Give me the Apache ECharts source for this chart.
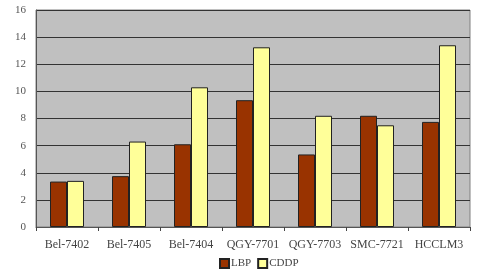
<!DOCTYPE html>
<html><head><meta charset="utf-8">
<script src="https://cdn.jsdelivr.net/npm/echarts@6/dist/echarts.min.js"></script>
<style>html,body{margin:0;padding:0;background:#fff;}#c{width:484px;height:276px;}</style>
</head><body><div id="c"></div>
<script>
var categories = ['Bel-7402','Bel-7405','Bel-7404','QGY-7701','QGY-7703','SMC-7721','HCCLM3'];
var lbp = [3.35, 3.75, 6.1, 9.35, 5.35, 8.2, 7.75];
var cddp = [3.4, 6.3, 10.3, 13.25, 8.2, 7.5, 13.4];
var yTicks = [0,2,4,6,8,10,12,14,16];

var chart = echarts.init(document.getElementById('c'), null, {renderer:'canvas'});
var font = '"Liberation Serif", "DejaVu Serif", serif';
chart.setOption({
  animation:false,
  backgroundColor:'#fff',
  textStyle:{fontFamily:font},
  grid:{left:36, right:14, top:10, bottom:49, show:true, backgroundColor:'#c0c0c0', borderColor:'#808080', borderWidth:1},
  legend:{bottom:2, left:214, itemWidth:9, itemHeight:9, itemGap:6,
    icon:'rect',
    textStyle:{fontFamily:font, fontSize:11, color:'#444', padding:[0,0,0,-3]},
    data:['LBP','CDDP']},
  xAxis:{type:'category', data:categories,
    axisLine:{lineStyle:{color:'#555'}},
    axisTick:{show:true, alignWithLabel:false, length:4, lineStyle:{color:'#444'}},
    axisLabel:{interval:0, fontFamily:font, fontSize:12, color:'#444', margin:12}},
  yAxis:{type:'value', min:0, max:16, interval:2,
    axisLine:{show:true, lineStyle:{color:'#555'}},
    axisTick:{show:false},
    splitLine:{lineStyle:{color:'#333', width:1}},
    axisLabel:{fontFamily:font, fontSize:11, color:'#555', margin:10}},
  series:[
    {name:'LBP', type:'bar', data:lbp, barWidth:17, barGap:'0%',
      itemStyle:{color:'#993300', borderColor:'#222', borderWidth:1}},
    {name:'CDDP', type:'bar', data:cddp, barWidth:17,
      itemStyle:{color:'#ffff99', borderColor:'#222', borderWidth:1}}
  ]
});
</script></body></html>
